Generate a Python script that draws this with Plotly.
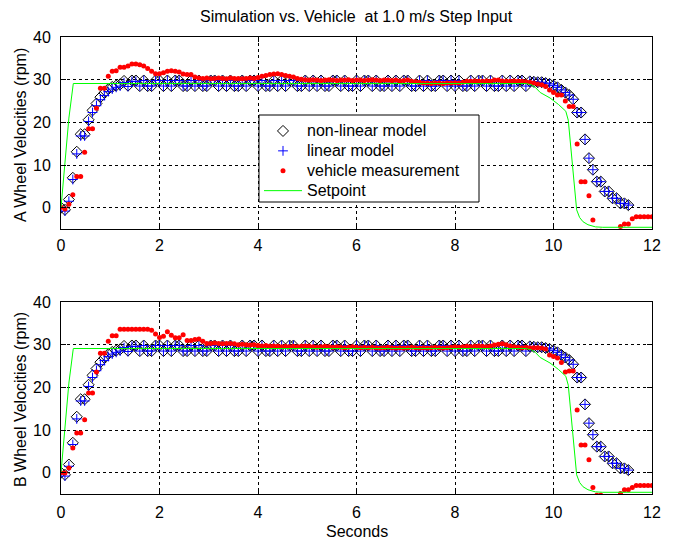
import plotly.graph_objects as go

# ---------------- data ----------------
DT = 0.08  # sample spacing of the logged data (s)

# simulated non-linear model (shared by both wheels)
NONLIN = [
    0.0, -0.5, 1.9, 7.0, 13.1, 17.2, 17.2, 20.6, 22.8, 24.4,
    25.9, 26.9, 27.8, 28.3, 28.6, 28.9, 29.7, 28.6, 29.8, 29.8,
    28.5, 29.8, 28.5, 28.5, 29.8, 29.8, 28.5, 29.8, 28.5, 29.8,
    29.8, 28.5, 28.5, 29.8, 28.5, 29.8, 28.5, 28.5, 29.8, 29.8,
    28.5, 29.8, 28.5, 29.8, 28.5, 28.5, 29.8, 28.5, 29.8, 29.8,
    28.5, 29.8, 28.5, 28.5, 29.8, 28.5, 29.8, 28.5, 29.8, 29.8,
    28.5, 28.5, 29.8, 28.5, 29.8, 28.5, 29.8, 28.5, 28.5, 29.8,
    29.8, 28.5, 29.8, 28.5, 28.5, 29.8, 28.5, 29.8, 29.8, 28.5,
    29.8, 28.5, 28.5, 29.8, 28.5, 29.8, 28.5, 29.8, 29.8, 28.5,
    28.5, 29.8, 28.5, 29.8, 28.5, 28.5, 29.8, 29.8, 28.5, 29.8,
    28.5, 29.8, 28.5, 28.5, 29.8, 28.5, 29.8, 29.8, 28.5, 29.8,
    28.5, 28.5, 29.8, 28.5, 29.8, 28.5, 29.8, 29.8, 28.5, 29.6,
    29.5, 29.4, 29.4, 29.2, 29.0, 28.6, 28.2, 27.6, 27.0, 26.4,
    25.4, 22.3, 22.3, 16.0, 11.6, 8.9, 6.1, 6.1, 3.8, 3.8,
    2.2, 2.2, 1.0, 1.0, 0.6,
]

# simulated linear model: rise differs slightly, the rest follows the non-linear model
LIN_RISE = [
    0.0, -0.8, 1.5, 6.6, 12.6, 16.8, 16.8, 20.2, 22.3, 23.9,
    25.3, 26.3, 27.2, 27.8, 28.2, 28.5, 29.3, 28.4, 29.6, 29.6,
]
LIN = LIN_RISE + NONLIN[len(LIN_RISE):]

# vehicle measurement, wheel A
MEAS_A = [
    0.1, -0.3, 0.8, 3.0, 7.3, 7.3, 13.0, 18.5, 18.5, 23.3,
    28.0, 28.0, 30.8, 32.0, 32.1, 32.9, 32.9, 33.2, 33.7, 33.7,
    33.5, 33.2, 32.6, 32.0, 31.4, 31.4, 31.6, 32.0, 32.1, 32.0,
    31.8, 31.3, 31.2, 31.2, 30.6, 30.4, 30.3, 30.4, 30.2, 30.3,
    30.4, 30.3, 30.2, 30.4, 30.3, 30.3, 30.2, 30.3, 30.4, 30.3,
    30.5, 30.8, 31.0, 31.2, 31.3, 31.4, 31.2, 31.0, 30.8, 30.6,
    30.3, 30.1, 30.0, 29.9, 30.0, 29.9, 29.8, 29.9, 30.0, 29.9,
    29.8, 29.9, 29.9, 30.0, 29.8, 29.9, 29.9, 29.8, 29.9, 30.0,
    29.9, 29.8, 29.9, 29.9, 29.8, 29.9, 29.7, 29.8, 29.9, 29.6,
    29.5, 29.4, 29.2, 29.2, 29.1, 29.2, 29.2, 29.1, 29.2, 29.2,
    29.3, 29.2, 29.4, 29.6, 29.6, 29.7, 29.6, 29.6, 29.7, 29.6,
    29.9, 29.9, 29.7, 29.6, 29.6, 29.7, 29.6, 29.6, 29.5, 29.4,
    29.2, 29.0, 28.8, 28.4, 27.6, 27.0, 26.4, 26.4, 25.0, 23.7,
    23.7, 14.9, 6.1, 6.1, 2.8, -2.9, -5.5, -5.5, -6.0, -6.5,
    -6.0, -5.6, -4.4, -3.8, -3.8, -2.6, -2.1, -2.1, -2.1, -2.1,
    -2.1,
]

# vehicle measurement, wheel B
MEAS_B = [
    0.0, -0.1, 1.1, 5.8, 9.3, 9.3, 12.4, 18.7, 18.7, 23.6,
    28.0, 28.0, 30.8, 32.1, 32.1, 33.6, 33.6, 33.6, 33.6, 33.6,
    33.6, 33.6, 33.6, 33.4, 32.5, 31.7, 32.0, 33.0, 32.2, 31.6,
    31.6, 32.3, 31.0, 31.0, 31.2, 31.3, 30.8, 30.3, 30.3, 30.4,
    30.3, 30.2, 30.3, 30.3, 30.2, 30.0, 30.1, 30.0, 29.9, 30.0,
    29.8, 29.7, 29.8, 29.6, 29.7, 29.6, 29.5, 29.6, 29.5, 29.6,
    29.5, 29.6, 29.7, 29.6, 29.5, 29.4, 29.5, 29.6, 29.5, 29.4,
    29.5, 29.4, 29.3, 29.4, 29.5, 29.4, 29.3, 29.4, 29.3, 29.4,
    29.3, 29.2, 29.3, 29.4, 29.3, 29.2, 29.3, 29.2, 29.3, 29.4,
    29.3, 29.2, 29.3, 29.2, 29.3, 29.4, 29.3, 29.2, 29.3, 29.4,
    29.5, 29.4, 29.5, 29.6, 29.5, 29.6, 29.7, 29.6, 29.5, 29.7,
    29.9, 30.1, 30.2, 30.0, 29.7, 29.5, 29.4, 29.3, 29.4, 29.3,
    29.3, 29.3, 29.2, 29.0, 27.6, 27.2, 26.9, 25.8, 23.6, 23.8,
    23.8, 14.7, 6.5, 6.5, 3.0, -3.5, -5.3, -5.3, -6.0, -6.5,
    -6.2, -5.8, -4.9, -4.0, -4.0, -3.5, -3.0, -3.0, -3.0, -3.0,
    -3.0,
]

# setpoint profile
SP_T = [0, 0.16, 0.25, 9.45, 9.55, 9.63, 9.73, 9.93, 10.1, 10.25, 10.3,
        10.34, 10.38, 10.42, 10.47, 10.53, 10.6, 10.7, 10.85, 11.0, 12.0]
SP_V = [0, 21, 29.1, 29.1, 28.8, 28.2, 27.0, 25.7, 24.2, 22.6, 20.5,
        15.5, 9.8, 4.0, -0.5, -2.3, -3.3, -4.0, -4.5, -4.6, -4.6]

SERIES_NAMES = ["non-linear model", "linear model", "vehicle measurement", "Setpoint"]
X_TICKS = [0, 2, 4, 6, 8, 10, 12]
Y_TICKS = [0, 10, 20, 30, 40]

T_MODEL = [round(i * DT, 3) for i in range(len(NONLIN))]
T_A = [round(i * DT, 3) for i in range(len(MEAS_A))]
T_B = [round(i * DT, 3) for i in range(len(MEAS_B))]

# ---------------- figure ----------------
FONT = "Arial, Liberation Sans, sans-serif"
W, H = 676, 539
L, R, T, B = 61, 24, 37, 45
PH = H - T - B
PW = W - L - R
top_dom = [(494 - 229) / PH, 1.0]
bot_dom = [0.0, (494 - 302) / PH]


def px_x(p):
    return (p - L) / PW


def px_y(p):
    return (494 - p) / PH


def leg_name(s):
    return '<span style="font-size:16px">' + s + '</span>'


fig = go.Figure()


def add_panel(meas, t_meas, xa, ya, show):
    fig.add_trace(go.Scatter(
        x=T_MODEL, y=NONLIN, mode="markers", name=leg_name(SERIES_NAMES[0]),
        xaxis=xa, yaxis=ya, showlegend=show, legendrank=1,
        marker=dict(symbol="diamond-open", size=8.5, color="black",
                    line=dict(color="black", width=1))))
    fig.add_trace(go.Scatter(
        x=T_MODEL, y=LIN, mode="markers", name=leg_name(SERIES_NAMES[1]),
        xaxis=xa, yaxis=ya, showlegend=show, legendrank=2,
        marker=dict(symbol="cross-thin", size=7, color="blue",
                    line=dict(color="blue", width=1))))
    fig.add_trace(go.Scatter(
        x=t_meas, y=meas, mode="markers", name=leg_name(SERIES_NAMES[2]),
        xaxis=xa, yaxis=ya, showlegend=show, legendrank=3,
        marker=dict(symbol="circle", size=5, color="red",
                    line=dict(width=0))))
    fig.add_trace(go.Scatter(
        x=SP_T, y=SP_V, mode="lines", name=leg_name(SERIES_NAMES[3]),
        xaxis=xa, yaxis=ya, showlegend=show, legendrank=4,
        line=dict(color="#00ff00", width=1)))


add_panel(MEAS_A, T_A, "x", "y", True)
add_panel(MEAS_B, T_B, "x2", "y2", False)

axis_common = dict(
    showline=True, linecolor="black", linewidth=1, mirror="ticks",
    ticks="inside", ticklen=5, tickcolor="black", tickwidth=1,
    showgrid=True, gridcolor="black", gridwidth=1, griddash="3px,3px",
    zeroline=False, tickfont=dict(family=FONT, size=16, color="black"),
)

fig.update_layout(
    width=W, height=H,
    margin=dict(l=L, r=R, t=T, b=B, pad=0),
    paper_bgcolor="white", plot_bgcolor="white",
    font=dict(family=FONT, size=16, color="black"),
    xaxis=dict(domain=[0, 1], range=[0, 12], tickvals=X_TICKS, anchor="y",
               ticklabelstandoff=2, **axis_common),
    yaxis=dict(domain=top_dom, range=[-5, 40], tickvals=Y_TICKS, anchor="x",
               ticklabelstandoff=6, **axis_common),
    xaxis2=dict(domain=[0, 1], range=[0, 12], tickvals=X_TICKS, anchor="y2",
                ticklabelstandoff=4, **axis_common),
    yaxis2=dict(domain=bot_dom, range=[-5, 40], tickvals=Y_TICKS, anchor="x2",
                ticklabelstandoff=6, **axis_common),
    legend=dict(x=px_x(259), y=px_y(116),
                xanchor="left", yanchor="top",
                bgcolor="rgba(0,0,0,0)", borderwidth=0,
                font=dict(family=FONT, size=13, color="black"),
                itemwidth=38, tracegroupgap=0),
    showlegend=True,
)

# legend frame (white box with black border, drawn over the data)
fig.add_shape(type="rect", xref="paper", yref="paper",
              x0=px_x(259), x1=px_x(479), y0=px_y(202), y1=px_y(115),
              line=dict(color="black", width=1), fillcolor="white",
              layer="above")

fig.add_annotation(text="Simulation vs. Vehicle  at 1.0 m/s Step Input",
                   xref="paper", yref="paper", x=0.5, y=px_y(17),
                   showarrow=False, font=dict(family=FONT, size=16),
                   xanchor="center", yanchor="middle")
fig.add_annotation(text="A Wheel Velocities (rpm)", textangle=-90,
                   xref="paper", yref="paper", x=px_x(20), y=px_y(135),
                   showarrow=False, font=dict(family=FONT, size=16),
                   xanchor="center", yanchor="middle")
fig.add_annotation(text="B Wheel Velocities (rpm)", textangle=-90,
                   xref="paper", yref="paper", x=px_x(20), y=px_y(400),
                   showarrow=False, font=dict(family=FONT, size=16),
                   xanchor="center", yanchor="middle")
fig.add_annotation(text="Seconds", xref="paper", yref="paper",
                   x=0.5, y=px_y(531), showarrow=False,
                   font=dict(family=FONT, size=16),
                   xanchor="center", yanchor="middle")

fig.write_html("out.html")
